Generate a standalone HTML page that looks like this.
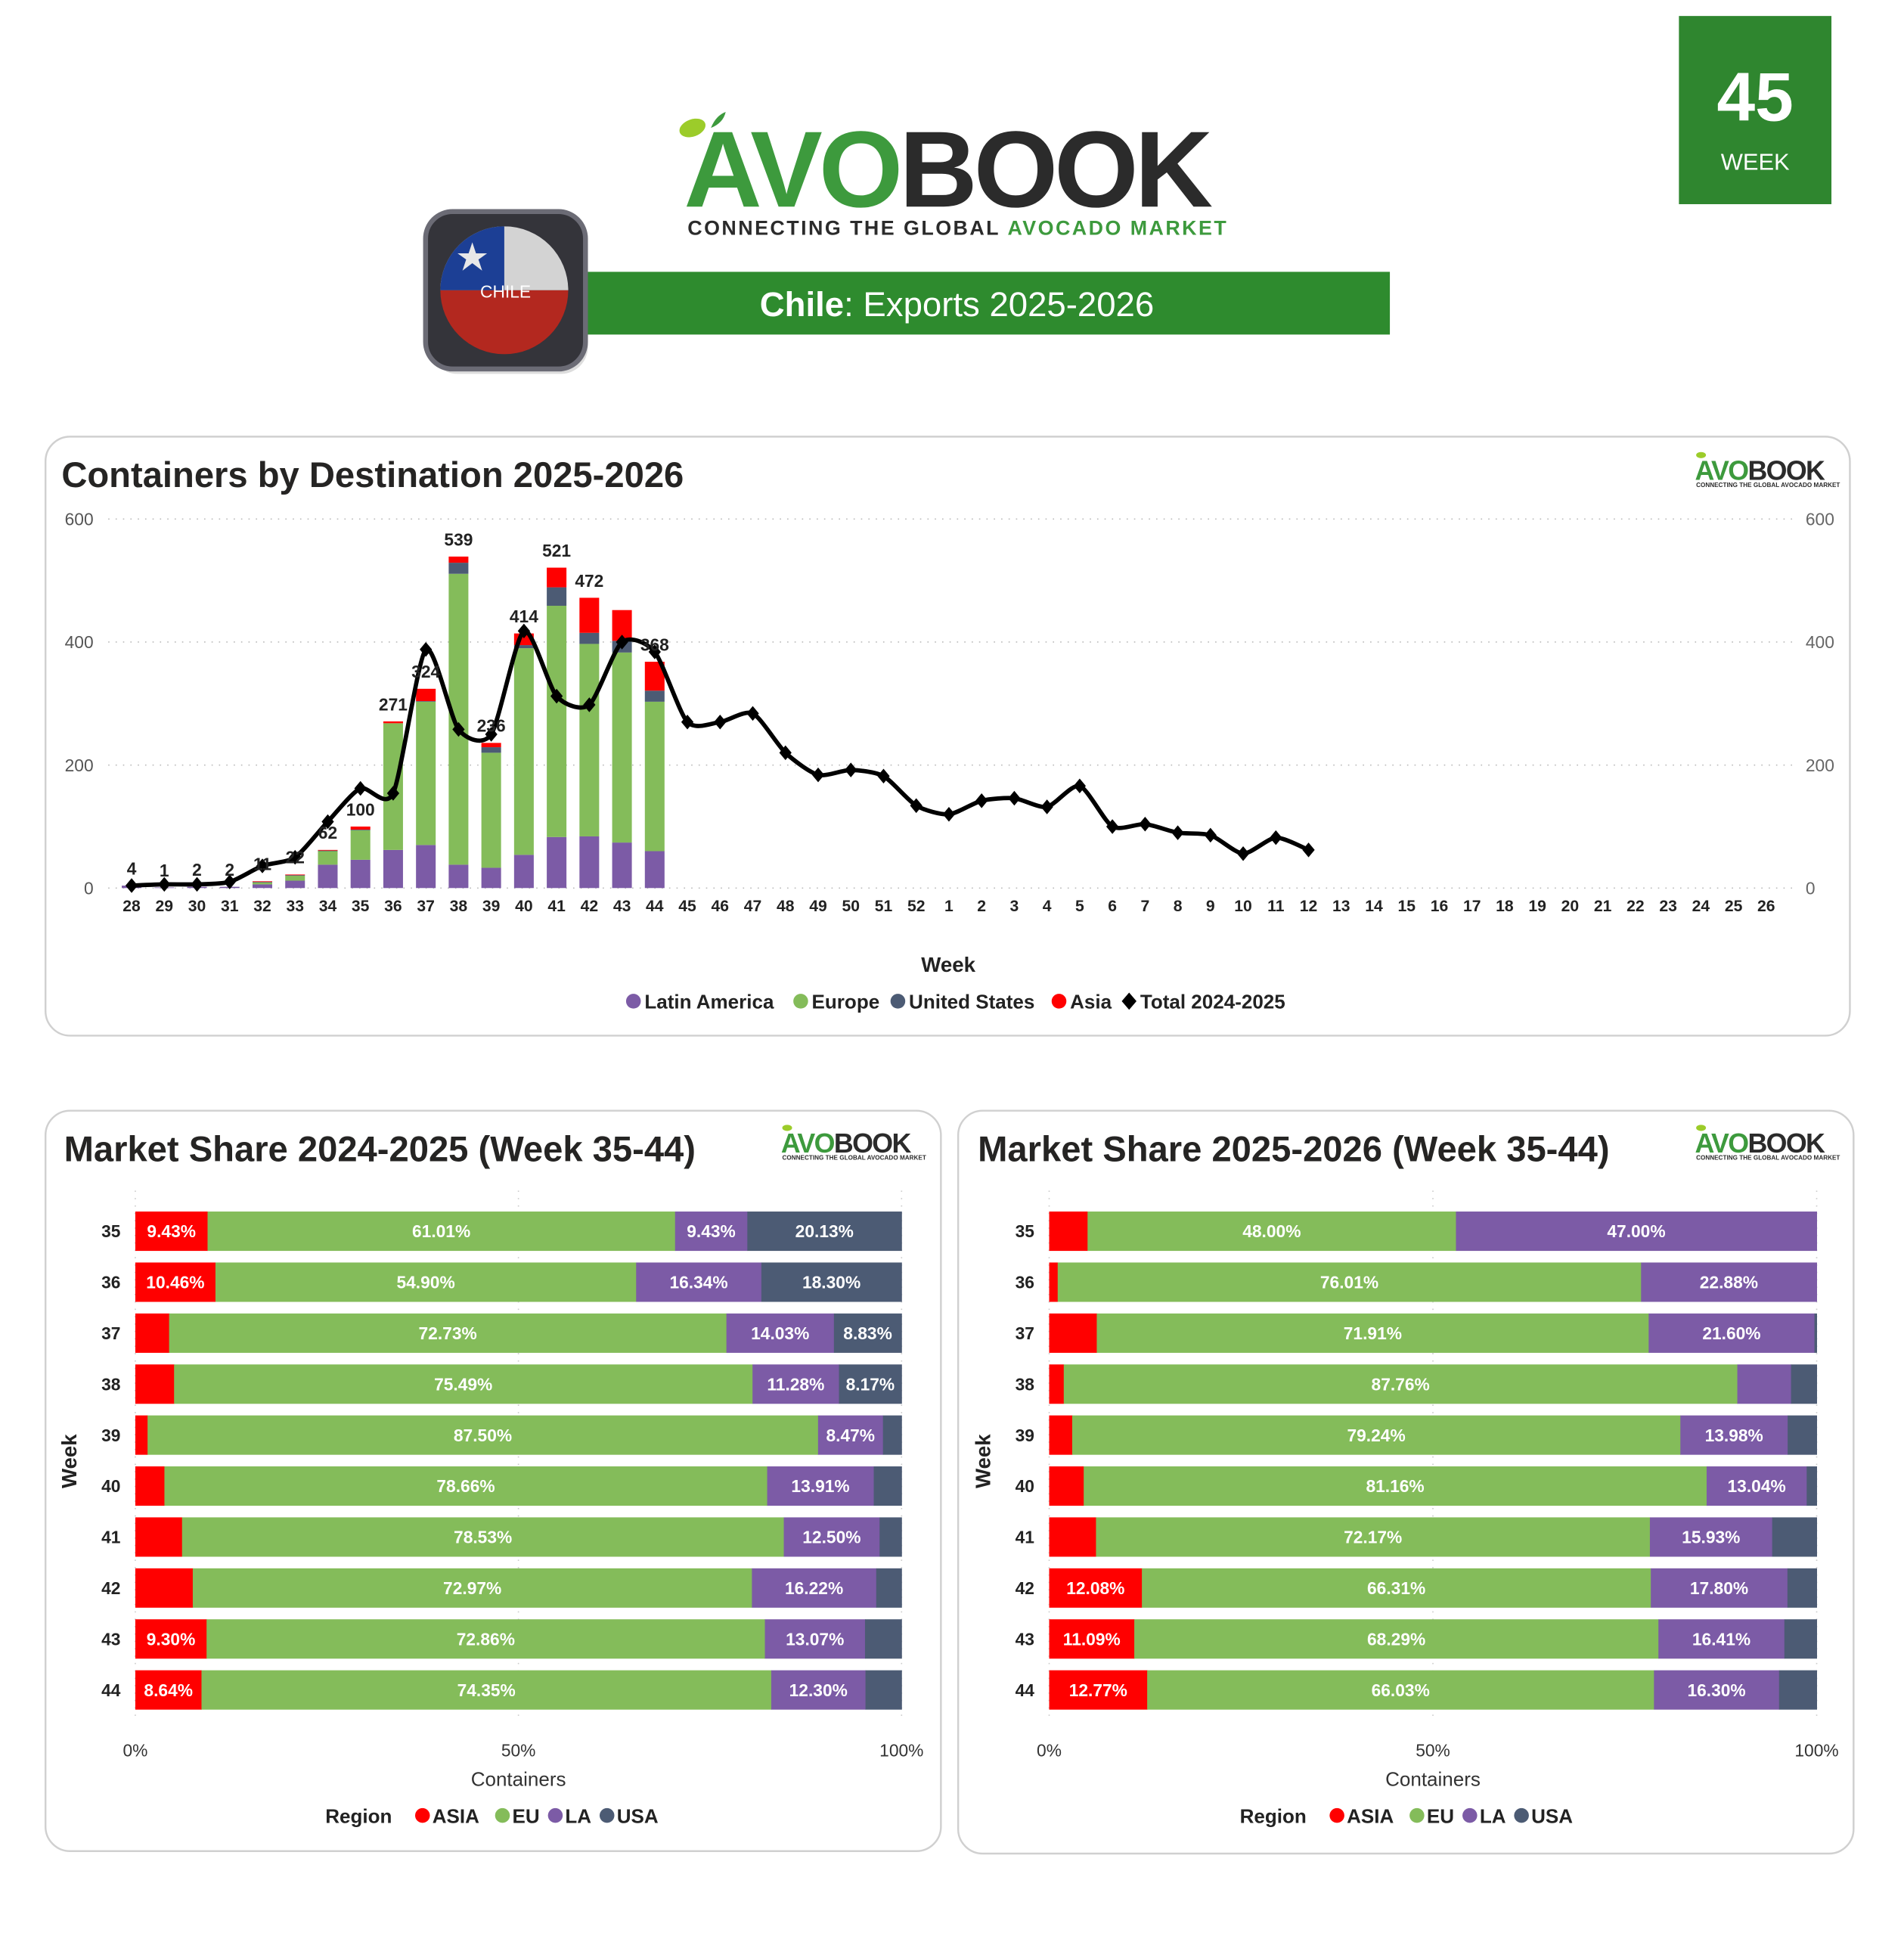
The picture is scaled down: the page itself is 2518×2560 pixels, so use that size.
<!DOCTYPE html>
<html><head><meta charset="utf-8">
<style>
html,body{margin:0;padding:0;background:#fff;}
body{width:2518px;height:2560px;overflow:hidden;}
svg{display:block;font-family:"Liberation Sans","DejaVu Sans",sans-serif;}
</style></head>
<body>
<svg id="main" width="2518" height="2560" viewBox="0 0 1548 1574" preserveAspectRatio="none" xmlns="http://www.w3.org/2000/svg">
  <g>
    <rect x="1365" y="13" width="124" height="153" fill="#2f862f"/>
    <text x="1427" y="98" text-anchor="middle" font-size="56" font-weight="bold" fill="#fff">45</text>
    <text x="1427" y="138" text-anchor="middle" font-size="19" fill="#fff">WEEK</text>
  </g>
  <g>
    <ellipse cx="563" cy="104" rx="11" ry="7" fill="#9ccc2a" transform="rotate(-20 563 104)"/>
    <path d="M578 104 q4 -10 12 -13 q-2 9 -12 13z" fill="#3d9a3d"/>
    <text x="556" y="168" font-size="88" font-weight="900" fill="#3d9a3d" letter-spacing="-3">AVO<tspan fill="#2b2b2b">BOOK</tspan></text>
    <text x="559" y="191" font-size="16.5" font-weight="bold" fill="#2b2b2b" textLength="438">CONNECTING THE GLOBAL <tspan fill="#3d9a3d">AVOCADO MARKET</tspan></text>
  </g>
  <g>
    <rect x="420" y="221" width="710" height="51" fill="#2e8b2e"/>
    <text x="778" y="257" text-anchor="middle" font-size="28" fill="#fff"><tspan font-weight="bold">Chile</tspan>: Exports 2025-2026</text>
  </g>
  <g>
    <rect x="350" y="176" width="128" height="128" rx="22" fill="#bbb" opacity="0.5"/>
    <rect x="346" y="172" width="130" height="128" rx="22" fill="#34343a" stroke="#6b6b75" stroke-width="4"/>
    <clipPath id="fc"><circle cx="410" cy="236" r="52"/></clipPath>
    <g clip-path="url(#fc)">
      <rect x="358" y="184" width="104" height="52" fill="#d3d3d3"/>
      <rect x="358" y="184" width="52" height="52" fill="#1c3f95"/>
      <rect x="358" y="236" width="104" height="52" fill="#b3281f"/>
    </g>
    <polygon points="384,197 387,206 396,206 389,211 392,220 384,214 376,220 379,211 372,206 381,206" fill="#e8e8e8"/>
    <text x="411" y="242" text-anchor="middle" font-size="14" fill="#fff">CHILE</text>
  </g>

  <rect x="37" y="355" width="1467" height="487" rx="20" fill="#fff" stroke="#d0d0d0" stroke-width="1.5"/>
  <rect x="37" y="903" width="728" height="602" rx="20" fill="#fff" stroke="#d0d0d0" stroke-width="1.5"/>
  <rect x="779" y="903" width="728" height="604" rx="20" fill="#fff" stroke="#d0d0d0" stroke-width="1.5"/>

  <text x="50" y="396" font-size="29" font-weight="bold" fill="#252423">Containers by Destination 2025-2026</text>
  <text x="52" y="944" font-size="29" font-weight="bold" fill="#252423">Market Share 2024-2025 (Week 35-44)</text>
  <text x="795" y="944" font-size="29" font-weight="bold" fill="#252423">Market Share 2025-2026 (Week 35-44)</text>

  <g id="minilogos"></g>
  <g id="topchart"></g>
  <g id="left"></g>
  <g id="right"></g>
</svg>
<script>
var weeks = ["28","29","30","31","32","33","34","35","36","37","38","39","40","41","42","43","44","45","46","47","48","49","50","51","52","1","2","3","4","5","6","7","8","9","10","11","12","13","14","15","16","17","18","19","20","21","22","23","24","25","26"];
var laVals   = [4,1,2,2,6,12,38,46,62,70,38,33,54,83,84,74,60];
var euVals   = [0,0,0,0,3,8,22,48,206,233,473,187,336,376,313,309,243];
var usVals   = [0,0,0,0,1,1,1,1,0,1,18,9,5,30,18,19,18];
var asiaVals = [0,0,0,0,1,1,1,5,3,20,10,7,19,32,57,50,47];
var totalLabels = [4,1,2,2,11,22,62,100,271,324,539,236,414,521,472,null,368];
var prevTotal = [4,6,6,10,36,50,108,162,154,388,258,250,418,312,298,400,384,270,270,284,220,184,192,182,134,120,142,146,132,166,100,104,90,86,56,82,62];
var yTicks = [0,200,400,600];

var shareWeeks = ["35","36","37","38","39","40","41","42","43","44"];
var asia24 = [9.43,10.46,4.41,5.06,1.60,3.80,6.10,7.50,9.30,8.64];
var eu24   = [61.01,54.90,72.73,75.49,87.50,78.66,78.53,72.97,72.86,74.35];
var la24   = [9.43,16.34,14.03,11.28,8.47,13.91,12.50,16.22,13.07,12.30];
var usa24  = [20.13,18.30,8.83,8.17,2.43,3.63,2.87,3.31,4.77,4.71];
var asia25 = [5.00,1.11,6.20,1.90,3.00,4.50,6.10,12.08,11.09,12.77];
var eu25   = [48.00,76.01,71.91,87.76,79.24,81.16,72.17,66.31,68.29,66.03];
var la25   = [47.00,22.88,21.60,7.00,13.98,13.04,15.93,17.80,16.41,16.30];
var usa25  = [0.00,0.00,0.29,3.34,3.78,1.30,5.80,3.81,4.21,4.90];
var pctTicks = ["0%","50%","100%"];

(function(){
var NS="http://www.w3.org/2000/svg";
var C={la:"#7c5ba6",eu:"#84bc5a",us:"#4c5b74",asia:"#ff0000"};
function mk(tag,attrs,parent,txt){var e=document.createElementNS(NS,tag);for(var k in attrs)e.setAttribute(k,attrs[k]);if(txt!==undefined)e.textContent=txt;parent.appendChild(e);return e;}

var ml=document.getElementById('minilogos');
[[1378,390],[635,937],[1378,937]].forEach(function(p){
  var g=mk('g',{},ml);
  
  
  mk('ellipse',{cx:p[0]+5,cy:p[1]-20,rx:4,ry:2.5,fill:"#9ccc2a"},g);
  var t=mk('text',{x:p[0],y:p[1],"font-size":22,"font-weight":"900",fill:"#3d9a3d","letter-spacing":"-1"},g,"AVO");
  var ts=document.createElementNS(NS,'tspan');ts.setAttribute('fill','#2b2b2b');ts.textContent="BOOK";t.appendChild(ts);
  mk('text',{x:p[0]+1,y:p[1]+6,"font-size":5,"font-weight":"bold",fill:"#2b2b2b",textLength:117},g,"CONNECTING THE GLOBAL AVOCADO MARKET");
});

var topG=document.getElementById('topchart');
var X0=107,X1=1436,Y0=722,YS=0.5;
function xw(i){return X0+i*(X1-X0)/(weeks.length-1);}
function yv(v){return Y0-v*YS;}
yTicks.forEach(function(t){
  var l=mk('line',{x1:88,x2:1458,y1:yv(t),y2:yv(t),stroke:"#bbb","stroke-width":1,"stroke-dasharray":"1 5"},topG);
  
  
  var a=mk('text',{x:76,y:yv(t)+5,"text-anchor":"end","font-size":14,fill:"#555"},topG,t);
  
  
  var b=mk('text',{x:1468,y:yv(t)+5,"font-size":14,fill:"#666"},topG,t);
  
  
});
weeks.forEach(function(w,i){
  var t=mk('text',{x:xw(i),y:741,"text-anchor":"middle","font-size":13,"font-weight":"bold",fill:"#222"},topG,w);
  
  
});
var BW=16;
laVals.forEach(function(v,i){
  var base=0;
  [[laVals[i],C.la,'la'],[euVals[i],C.eu,'eu'],[usVals[i],C.us,'us'],[asiaVals[i],C.asia,'asia']].forEach(function(s){
    if(s[0]<=0)return;
    var r=mk('rect',{x:xw(i)-BW/2,y:yv(base+s[0]),width:BW,height:s[0]*YS,fill:s[1]},topG);
    
    
    base+=s[0];
  });
});
var pts=prevTotal.map(function(v,i){return [xw(i),yv(v)];});
var d="M"+pts[0][0]+","+pts[0][1];
for(var i=0;i<pts.length-1;i++){
  var p0=pts[Math.max(0,i-1)],p1=pts[i],p2=pts[i+1],p3=pts[Math.min(pts.length-1,i+2)];
  var k=0.12;
  d+=" C"+(p1[0]+(p2[0]-p0[0])*k)+","+(p1[1]+(p2[1]-p0[1])*k)+" "+(p2[0]-(p3[0]-p1[0])*k)+","+(p2[1]-(p3[1]-p1[1])*k)+" "+p2[0]+","+p2[1];
}
var ln=mk('path',{d:d,fill:"none",stroke:"#000","stroke-width":3.5,"stroke-linejoin":"round"},topG);


pts.forEach(function(p){
  var m=mk('polygon',{points:(p[0])+","+(p[1]-6)+" "+(p[0]+5)+","+p[1]+" "+p[0]+","+(p[1]+6)+" "+(p[0]-5)+","+p[1],fill:"#000"},topG);
  
  
});
totalLabels.forEach(function(v,i){
  if(v===null)return;
  var tot=laVals[i]+euVals[i]+usVals[i]+asiaVals[i];
  var t=mk('text',{x:xw(i),y:yv(Math.max(tot,v))-9,"text-anchor":"middle","font-size":14,"font-weight":"bold",fill:"#222"},topG,v);
  
  
});
var xt=mk('text',{x:771,y:790,"text-anchor":"middle","font-size":17,"font-weight":"bold",fill:"#222"},topG,"Week");


var lg=[["Latin America",C.la,'c'],["Europe",C.eu,'c'],["United States",C.us,'c'],["Asia",C.asia,'c'],["Total 2024-2025","#000",'d']];
var lx=[509,645,724,855,912];
lg.forEach(function(e,i){
  var g=mk('g',{},topG);
  
  
  if(e[2]==='c')mk('circle',{cx:lx[i]+6,cy:814,r:6,fill:e[1]},g);
  else mk('polygon',{points:(lx[i]+6)+",807 "+(lx[i]+12)+",814 "+(lx[i]+6)+",821 "+lx[i]+",814",fill:"#000"},g);
  mk('text',{x:lx[i]+15,y:820,"font-size":16,"font-weight":"bold",fill:"#222"},g,e[0]);
});

function share(gid,x0,x1,A,E,L,U,wlabelX,weekTitleX){
  var g=document.getElementById(gid);
  var RY0=1001,RP=41.44,BH=32;
  function xs(p){return x0+(x1-x0)*p/100;}
  [0,50,100].forEach(function(p,k){
    var l=mk('line',{x1:xs(p),x2:xs(p),y1:968,y2:1400,stroke:"#ccc","stroke-width":1,"stroke-dasharray":"1 5"},g);
    
    
    var t=mk('text',{x:xs(p),y:1428,"text-anchor":"middle","font-size":14,fill:"#333"},g,pctTicks[k]);
    
    
  });
  shareWeeks.forEach(function(w,i){
    var cy=RY0+i*RP;
    var wl=mk('text',{x:wlabelX,y:cy+5,"text-anchor":"end","font-size":14,"font-weight":"bold",fill:"#222"},g,w);
    
    
    var b=0;
    [[A[i],C.asia,'asia'],[E[i],C.eu,'eu'],[L[i],C.la,'la'],[U[i],C.us,'usa']].forEach(function(s){
      if(s[0]<=0)return;
      var r=mk('rect',{x:xs(b),y:cy-BH/2,width:xs(b+s[0])-xs(b)+0.3,height:BH,fill:s[1]},g);
      
      
      if(s[0]>=8.1){
        var t=mk('text',{x:(xs(b)+xs(b+s[0]))/2,y:cy+5,"text-anchor":"middle","font-size":14,"font-weight":"bold",fill:"#fff"},g,s[0].toFixed(2)+"%");
        
        
      }
      b+=s[0];
    });
  });
  var wt=mk('text',{x:weekTitleX,y:1188,"text-anchor":"middle","font-size":17,"font-weight":"bold",fill:"#222",transform:"rotate(-90 "+weekTitleX+" 1188)"},g,"Week");
  
  
  var ct=mk('text',{x:(x0+x1)/2,y:1452,"text-anchor":"middle","font-size":16,fill:"#333"},g,"Containers");
  
  
  var cx=(x0+x1)/2;
  var rt=mk('text',{x:cx-157,y:1482,"font-size":16,"font-weight":"bold",fill:"#222"},g,"Region");
  
  
  var ents=[["ASIA",C.asia,-78],["EU",C.eu,-13],["LA",C.la,30],["USA",C.us,72]];
  ents.forEach(function(e){
    var lgE=mk('g',{},g);
    
    
    mk('circle',{cx:cx+e[2],cy:1476,r:6,fill:e[1]},lgE);
    mk('text',{x:cx+e[2]+8,y:1482,"font-size":16,"font-weight":"bold",fill:"#222"},lgE,e[0]);
  });
}
share('left',110,733,asia24,eu24,la24,usa24,98,62);
share('right',853,1477,asia25,eu25,la25,usa25,841,805);
})();
</script>
</body></html>
